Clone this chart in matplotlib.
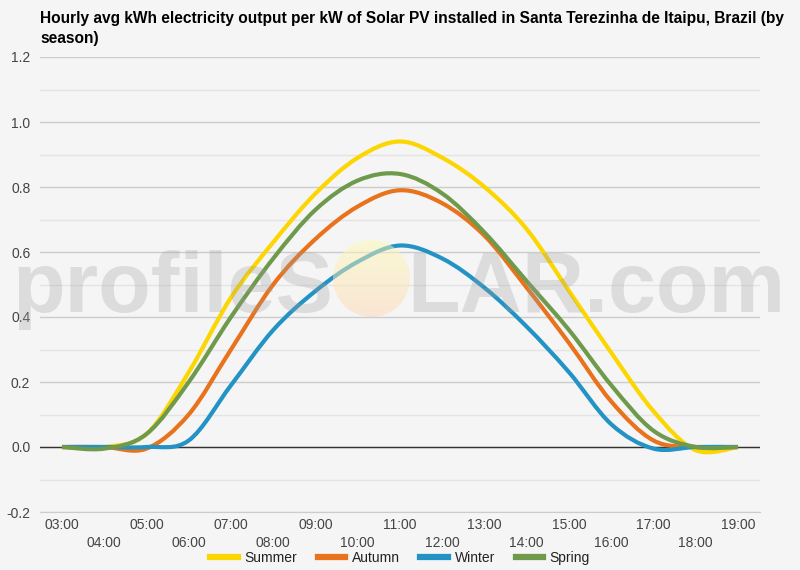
import numpy as np
import matplotlib
matplotlib.use("Agg")
import matplotlib.pyplot as plt
from matplotlib.path import Path
from matplotlib.patches import PathPatch, Circle
from matplotlib.lines import Line2D

hours = list(range(3, 20))
hour_labels = [f"{h:02d}:00" for h in hours]

summer = [0, 0, 0.04, 0.23, 0.46, 0.63, 0.78, 0.89, 0.94, 0.89, 0.80, 0.67, 0.48, 0.29, 0.11, -0.01, 0]
autumn = [0, 0, -0.005, 0.10, 0.30, 0.50, 0.64, 0.74, 0.79, 0.75, 0.65, 0.49, 0.32, 0.14, 0.02, 0, 0]
winter = [0, 0, 0, 0.02, 0.19, 0.36, 0.48, 0.57, 0.62, 0.58, 0.49, 0.37, 0.23, 0.07, -0.005, 0, 0]
spring = [0, -0.005, 0.04, 0.20, 0.40, 0.58, 0.73, 0.82, 0.84, 0.78, 0.66, 0.51, 0.36, 0.19, 0.05, 0, 0]

series_names = ["Summer", "Autumn", "Winter", "Spring"]
series_colors = ["#fcd600", "#e8731c", "#2293c4", "#6f9a4c"]

TITLE = ("Hourly avg kWh electricity output per kW of Solar PV installed in "
         "Santa Terezinha de Itaipu, Brazil (by\nseason)")

BG = "#f5f5f5"
W, H = 800, 570


def smooth_path(xs, ys):
    # catmull-rom through the hourly points, as cubic bezier segments
    pts = np.column_stack([xs, ys]).astype(float)
    n = len(pts)
    verts = [pts[0]]
    codes = [Path.MOVETO]
    for i in range(n - 1):
        p0 = pts[max(i - 1, 0)]
        p1 = pts[i]
        p2 = pts[i + 1]
        p3 = pts[min(i + 2, n - 1)]
        c1 = p1 + (p2 - p0) / 6.0
        c2 = p2 - (p3 - p1) / 6.0
        verts += [c1, c2, p2]
        codes += [Path.CURVE4] * 3
    return Path(verts, codes)


def fx(px):
    return px / W


def fy(py):
    return 1 - py / H


plt.rcParams["font.family"] = ["Liberation Sans", "DejaVu Sans"]

fig = plt.figure(figsize=(8, 5.7), dpi=100, facecolor=BG)
ax = fig.add_axes([fx(40), fy(512), fx(720), 455 / H], facecolor=BG)

for name, vals, col in zip(series_names, [summer, autumn, winter, spring], series_colors):
    ax.add_patch(PathPatch(smooth_path(hours, vals), fill=False, edgecolor=col,
                           lw=3.0, joinstyle="round", capstyle="butt", zorder=3))

ax.set_xlim(2.48, 19.52)
ax.set_ylim(-0.2, 1.2)
ax.set_yticks(np.arange(-0.2, 1.21, 0.2))
ax.set_yticklabels([f"{v:.1f}" for v in np.arange(-0.2, 1.21, 0.2)])
ax.set_yticks(np.arange(-0.1, 1.2, 0.2), minor=True)
ax.grid(axis="y", which="major", color="#cccccc", lw=1)
ax.grid(axis="y", which="minor", color="#e4e4e4", lw=1)
ax.axhline(0, color="#333333", lw=1, zorder=2)
ax.tick_params(axis="y", which="both", length=0, pad=7, labelsize=10, labelcolor="#444444")

ax.set_xticks(hours[0::2])
ax.set_xticklabels(hour_labels[0::2])
ax.set_xticks(hours[1::2], minor=True)
ax.set_xticklabels(hour_labels[1::2], minor=True)
ax.tick_params(axis="x", which="major", length=0, pad=4, labelsize=10, labelcolor="#444444")
ax.tick_params(axis="x", which="minor", length=0, pad=17, labelsize=10, labelcolor="#444444")

for s in ["top", "right", "left"]:
    ax.spines[s].set_visible(False)
ax.spines["bottom"].set_color("#cccccc")

# title, shrunk to fit the width of the reference
title = fig.text(fx(40), fy(11), TITLE, ha="left", va="top", fontsize=10,
                 fontweight="bold", color="#000000", linespacing=1.45)
fig.canvas.draw()
tw = title.get_window_extent().width
title.set_fontsize(10 * 747 / tw)

# legend
handles = [Line2D([], [], color=c, lw=4.5) for c in series_colors]
fig.legend(handles, series_names, loc="center", bbox_to_anchor=(0.5, fy(558)), ncol=4,
           frameon=False, fontsize=10, handlelength=2.0, handletextpad=0.45,
           columnspacing=1.5, labelcolor="#222222")

# profileSOLAR watermark
fig.text(fx(333), fy(312), "profileS", ha="right", va="baseline", fontsize=62,
         fontweight="bold", color="#9d9d9d", alpha=0.28, zorder=5)
fig.text(fx(407), fy(312), "LAR.com", ha="left", va="baseline", fontsize=62,
         fontweight="bold", color="#9d9d9d", alpha=0.28, zorder=5)

sun = fig.add_axes([fx(333), fy(317), fx(77), 77 / H])
sun.set_axis_off()
grad = np.linspace(0, 1, 64)[:, None]
top = np.array([1.0, 0.985, 0.70])
bot = np.array([1.0, 0.84, 0.71])
img = top[None, None, :] * (1 - grad[..., None]) + bot[None, None, :] * grad[..., None]
img = np.repeat(img, 4, axis=1)
im = sun.imshow(img, extent=(0, 1, 0, 1), origin="upper", aspect="auto", alpha=0.5)
im.set_clip_path(Circle((0.5, 0.5), 0.5, transform=sun.transAxes))
sun.set_xlim(0, 1)
sun.set_ylim(0, 1)

fig.savefig("out.png", dpi=100, facecolor=BG)
